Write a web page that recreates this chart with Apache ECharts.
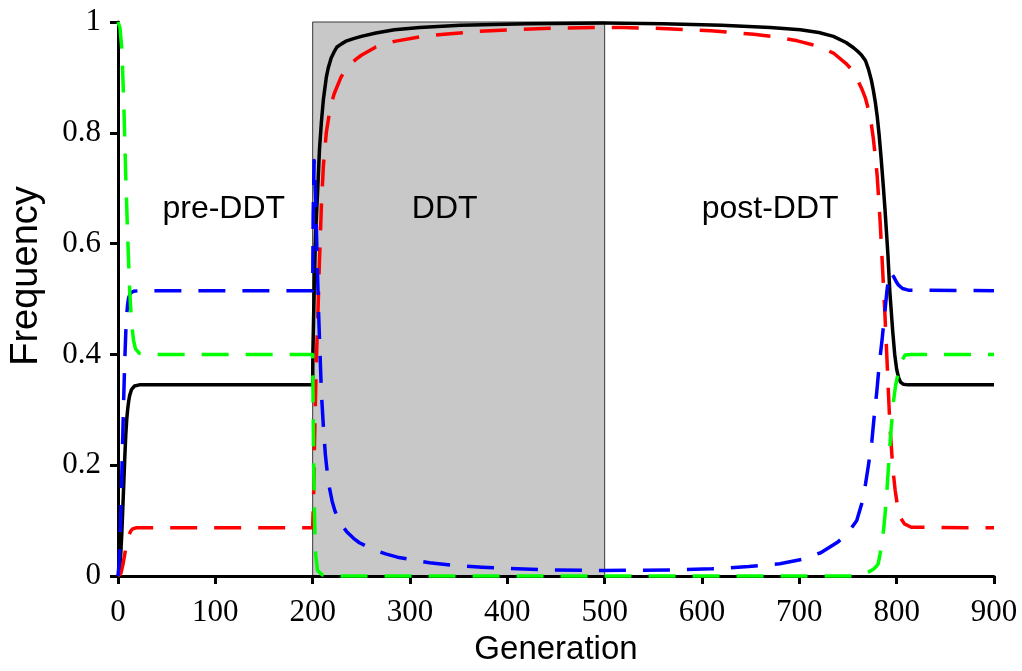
<!DOCTYPE html>
<html>
<head>
<meta charset="utf-8">
<script src="https://cdn.jsdelivr.net/npm/echarts@6/dist/echarts.min.js"></script>
<style>
html,body{margin:0;padding:0;background:#fff;}
#chart{width:1022px;height:671px;}
</style>
</head>
<body>
<div id="chart"></div>
<script>
// ---- data (generation, frequency) ----
const xTicks = [0, 100, 200, 300, 400, 500, 600, 700, 800, 900];
const yTicks = [0, 0.2, 0.4, 0.6, 0.8, 1];
const ddtPeriod = [200, 500];

const alleleR = [[0,0],[1,0.004],[2,0.02],[3,0.045],[4,0.08],[5,0.125],[6,0.17],[7,0.215],[8,0.255],[9,0.283],[10,0.302],[11,0.316],[12,0.326],[14,0.337],[17,0.343],[22,0.345],[200,0.345],[200.2,0.4],[201,0.47],[202,0.55],[203,0.62],[205,0.69],[207,0.77],[209,0.82],[211,0.86],[214,0.9],[216,0.917],[219,0.935],[222,0.946],[225,0.955],[230,0.961],[235,0.966],[242,0.97],[250,0.974],[265,0.98],[284,0.986],[310,0.99],[352,0.994],[420,0.997],[500,0.998],[560,0.997],[620,0.994],[670,0.99],[701,0.986],[720,0.981],[735,0.974],[748,0.963],[756,0.953],[760,0.947],[764,0.94],[768,0.93],[771,0.915],[774,0.895],[776,0.877],[778,0.856],[780,0.83],[782,0.796],[784,0.755],[786,0.71],[788,0.662],[791,0.58],[793,0.513],[796,0.44],[798,0.4],[800,0.373],[802,0.358],[804,0.35],[807,0.346],[812,0.345],[900,0.345]];

const genoRR = [[0,0],[3,0.005],[5,0.02],[7,0.04],[9,0.058],[11,0.072],[13,0.081],[15,0.085],[19,0.087],[200,0.087],[201,0.15],[202,0.25],[203,0.33],[204,0.4],[205.5,0.48],[207,0.57],[209,0.67],[211,0.74],[214,0.8],[218,0.845],[222,0.87],[229,0.9],[233,0.912],[238,0.922],[244,0.932],[250,0.94],[265,0.955],[284,0.965],[310,0.973],[335,0.978],[370,0.983],[404,0.986],[450,0.989],[489,0.99],[520,0.99],[564,0.988],[609,0.984],[653,0.978],[680,0.972],[698,0.966],[718,0.957],[735,0.944],[748,0.925],[756,0.91],[764,0.88],[768,0.862],[771,0.842],[774,0.815],[776,0.79],[778,0.758],[780,0.722],[783,0.64],[785,0.573],[788,0.47],[790,0.393],[793,0.273],[796,0.195],[798.5,0.154],[801,0.125],[803.6,0.106],[808,0.094],[815,0.088],[900,0.087]];

const genoRS = [[0,0],[1,0.02],[2,0.06],[3,0.12],[4,0.19],[5,0.26],[6,0.33],[7,0.39],[8,0.44],[9,0.473],[10,0.492],[11,0.503],[13,0.511],[16,0.514],[22,0.515],[200,0.515],[200.5,0.65],[201.5,0.75],[203,0.68],[204.5,0.58],[206,0.48],[208,0.38],[209,0.33],[211,0.27],[213,0.22],[216,0.17],[220,0.135],[223,0.117],[227,0.1],[231,0.089],[235,0.08],[242,0.068],[248,0.06],[255,0.054],[265,0.046],[275,0.04],[287,0.034],[300,0.03],[320,0.024],[345,0.019],[374,0.016],[410,0.013],[447,0.011],[500,0.01],[540,0.0103],[575,0.011],[610,0.013],[648,0.017],[680,0.022],[703,0.03],[722,0.042],[740,0.062],[750,0.078],[759,0.1],[764,0.13],[768,0.166],[771,0.2],[774.5,0.243],[777,0.29],[779.6,0.333],[782,0.38],[784.8,0.423],[787.5,0.47],[789.9,0.513],[791.5,0.535],[793.3,0.549],[795,0.548],[797,0.54],[800,0.53],[802,0.525],[806,0.519],[812,0.516],[900,0.515]];

const genoSS = [[0,1],[2,0.99],[4,0.95],[6,0.85],[8,0.72],[10,0.61],[12,0.515],[14,0.455],[16,0.425],[18,0.41],[22,0.402],[30,0.4],[200,0.4],[200.5,0.3],[201,0.2],[202,0.1],[203,0.04],[205,0.01],[210,0.002],[230,0],[758,0],[764,0.002],[770,0.006],[776,0.012],[779,0.017],[781,0.022],[783,0.04],[784.5,0.06],[786.5,0.082],[788,0.11],[790,0.154],[793.3,0.243],[796.7,0.315],[799,0.345],[802,0.37],[805,0.388],[808.7,0.399],[815,0.4],[900,0.4]];

const phaseLabels = ['pre-DDT', 'DDT', 'post-DDT'];
const phaseAnchors = [[108.7, 0.662], [335.6, 0.662], [670, 0.662]];

// ---- chart ----
const chart = echarts.init(document.getElementById('chart'), null, {renderer: 'canvas'});
const tickFont = {fontFamily: 'Liberation Serif', fontSize: 31, color: '#000'};
const dashed = [27, 17];

function lineSeries(name, data, color, type, z) {
  return {
    name: name, type: 'line', data: data, showSymbol: false, symbol: 'none',
    clip: false, z: z, silent: true,
    lineStyle: {color: color, width: 3.5, type: type, cap: 'butt', join: 'round'}
  };
}

chart.setOption({
  animation: false,
  backgroundColor: '#fff',
  grid: {left: 116, right: 28, top: 22, bottom: 92, containLabel: false},
  xAxis: {
    type: 'value', min: xTicks[0], max: xTicks[xTicks.length - 1], interval: 100, z: 1,
    name: 'Generation', nameLocation: 'middle', nameGap: 57,
    nameTextStyle: {fontFamily: 'Liberation Sans', fontSize: 33, color: '#000'},
    axisLine: {show: true, onZero: false, lineStyle: {color: '#000', width: 3}},
    axisTick: {show: true, length: 8, inside: false, lineStyle: {color: '#000', width: 3}},
    axisLabel: Object.assign({margin: 21}, tickFont),
    splitLine: {show: false}
  },
  yAxis: {
    type: 'value', min: yTicks[0], max: yTicks[yTicks.length - 1], interval: 0.2, z: 1,
    name: 'Frequency', nameLocation: 'middle', nameGap: 72, nameRotate: 90,
    nameTextStyle: {fontFamily: 'Liberation Sans', fontSize: 38, color: '#000', padding: [0, 0, 0, 46]},
    axisLine: {show: true, onZero: false, lineStyle: {color: '#000', width: 3}},
    axisTick: {show: true, length: 8, inside: false, lineStyle: {color: '#000', width: 3}},
    axisLabel: Object.assign({margin: 17, formatter: v => (v === 0 || v === 1) ? String(v) : v.toFixed(1)}, tickFont),
    splitLine: {show: false}
  },
  series: [
    {
      name: 'DDT period', type: 'line', data: [], z: 0, silent: true,
      markArea: {
        silent: true,
        itemStyle: {color: '#c8c8c8', borderColor: '#3a3a3a', borderWidth: 1},
        data: [[{xAxis: ddtPeriod[0], yAxis: 0}, {xAxis: ddtPeriod[1], yAxis: 1}]]
      }
    },
    lineSeries('R allele', alleleR, '#000000', 'solid', 2),
    lineSeries('RR', genoRR, '#ff0000', dashed, 3),
    lineSeries('RS', genoRS, '#0000ff', dashed, 4),
    lineSeries('SS', genoSS, '#00ff00', dashed, 5)
  ]
});

chart.setOption({
  graphic: phaseAnchors.map((p, i) => {
    const px = chart.convertToPixel({gridIndex: 0}, p);
    return {
      type: 'text', x: px[0], y: px[1], z: 10, silent: true,
      style: {text: phaseLabels[i], fill: '#000', font: '32px "Liberation Sans"',
        align: 'center', verticalAlign: 'middle'}
    };
  })
});
</script>
</body>
</html>
